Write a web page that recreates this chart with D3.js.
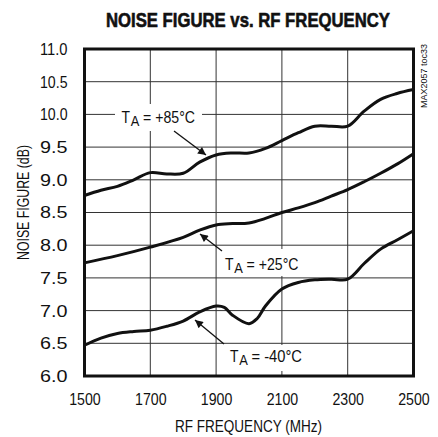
<!DOCTYPE html>
<html>
<head>
<meta charset="utf-8">
<script src="https://cdn.jsdelivr.net/npm/d3@7"></script>
<style>
  html, body { margin: 0; padding: 0; background: #fff; }
  svg { display: block; }
  text { font-family: "Liberation Sans Narrow", "Arial Narrow", "Liberation Sans", sans-serif; fill: #111; }
</style>
</head>
<body>
<svg id="chart" width="438" height="437"></svg>
<script>
// ---- data ----
const freqHot = [1500,1550,1600,1650,1700,1750,1800,1850,1900,1950,2000,2050,2100,2150,2200,2250,2300,2350,2400,2450,2500];
const nfHot   = [8.76,8.84,8.90,9.00,9.11,9.09,9.10,9.27,9.38,9.41,9.41,9.48,9.60,9.72,9.82,9.82,9.82,10.05,10.23,10.32,10.38];

const freqRoom = [1500,1600,1700,1800,1850,1900,1950,2000,2050,2100,2150,2200,2250,2300,2350,2400,2450,2500];
const nfRoom   = [7.73,7.84,7.97,8.12,8.23,8.31,8.33,8.34,8.41,8.50,8.57,8.65,8.75,8.85,8.97,9.10,9.24,9.40];

const freqCold = [1500,1550,1600,1650,1700,1750,1800,1850,1900,1925,1950,2000,2025,2050,2100,2150,2200,2250,2300,2350,2400,2450,2500];
const nfCold   = [6.47,6.58,6.65,6.68,6.70,6.76,6.84,6.98,7.07,7.05,6.93,6.80,6.88,7.07,7.33,7.43,7.47,7.48,7.48,7.72,7.94,8.08,8.22];

const xTicks = [1500,1700,1900,2100,2300,2500];
const yTicks = [6.0,6.5,7.0,7.5,8.0,8.5,9.0,9.5,10.0,10.5,11.0];

const titleText = "NOISE FIGURE vs. RF FREQUENCY";
const xTitle = "RF FREQUENCY (MHz)";
const yTitle = "NOISE FIGURE (dB)";
const sideNote = "MAX2057 toc33";
const seriesLabels = ["+85°C", "+25°C", "-40°C"];

// ---- layout ----
const svg = d3.select("#chart");
const L = 84.5, R = 413.5, T = 49, B = 376;
const x = d3.scaleLinear().domain([1500, 2500]).range([L, R]);
const y = d3.scaleLinear().domain([6, 11]).range([B, T]);

svg.append("defs").append("marker")
  .attr("id", "arr").attr("viewBox", "0 0 10 10").attr("refX", 10).attr("refY", 5)
  .attr("markerWidth", 11).attr("markerHeight", 8).attr("markerUnits", "userSpaceOnUse")
  .attr("orient", "auto")
  .append("path").attr("d", "M0,0 L10,5 L0,10 Z").attr("fill", "#111");

// gridlines
const grid = svg.append("g").attr("stroke", "#333").attr("stroke-width", 1);
grid.selectAll(".vg").data(xTicks.slice(1, -1)).join("line")
  .attr("x1", d => x(d)).attr("x2", d => x(d)).attr("y1", T).attr("y2", B);
grid.selectAll(".hg").data(yTicks.slice(1, -1)).join("line")
  .attr("x1", L).attr("x2", R).attr("y1", d => y(d)).attr("y2", d => y(d));

// axes (labels only)
const xAxis = svg.append("g").attr("transform", `translate(0,${B})`)
  .call(d3.axisBottom(x).tickValues(xTicks).tickFormat(d3.format("d")).tickSize(0).tickPadding(17));
const yAxis = svg.append("g").attr("transform", `translate(${L},0)`)
  .call(d3.axisLeft(y).tickValues(yTicks).tickFormat(d3.format(".1f")).tickSize(0).tickPadding(17));
[xAxis, yAxis].forEach(a => {
  a.select(".domain").remove();
  a.selectAll("text").attr("font-size", 17).attr("fill", "#111")
    .attr("font-family", "'Liberation Sans Narrow', 'Liberation Sans', sans-serif");
});
xAxis.selectAll("text").attr("textLength", 31.5).attr("lengthAdjust", "spacingAndGlyphs");
yAxis.selectAll("text").attr("textLength", 27.5).attr("lengthAdjust", "spacingAndGlyphs");

// annotation labels with white background
const labels = [
  { txt: seriesLabels[0], x: 121.5, y: 123.3, box: [115, 104, 87, 27], tail: [174, 131], tip: [206, 155] },
  { txt: seriesLabels[1], x: 225,   y: 269.5, box: [220, 249, 84, 27], tail: [222, 251], tip: [200, 234] },
  { txt: seriesLabels[2], x: 230,   y: 361.5, box: [225, 345, 82, 26], tail: [224, 344], tip: [195, 320] }
];
const ann = svg.append("g");
labels.forEach(l => {
  ann.append("rect").attr("x", l.box[0]).attr("y", l.box[1]).attr("width", l.box[2]).attr("height", l.box[3]).attr("fill", "#fff");
  ann.append("text").attr("x", l.x).attr("y", l.y).attr("font-size", 17)
    .attr("textLength", 8.5).attr("lengthAdjust", "spacingAndGlyphs").text("T");
  ann.append("text").attr("x", l.x + 9.2).attr("y", l.y + 3).attr("font-size", 14)
    .attr("textLength", 8.6).attr("lengthAdjust", "spacingAndGlyphs").text("A");
  ann.append("text").attr("x", l.x + 21.5).attr("y", l.y).attr("font-size", 17)
    .attr("textLength", l.txt.startsWith("-") ? 50.5 : 52).attr("lengthAdjust", "spacingAndGlyphs")
    .text("= " + l.txt);
});

// curves
const line = d3.line().x(d => x(d[0])).y(d => y(d[1])).curve(d3.curveCatmullRom.alpha(0.5));
const series = [
  d3.zip(freqHot, nfHot),
  d3.zip(freqRoom, nfRoom),
  d3.zip(freqCold, nfCold)
];
svg.append("g").selectAll("path").data(series).join("path")
  .attr("d", line).attr("fill", "none").attr("stroke", "#111").attr("stroke-width", 3)
  .attr("stroke-linejoin", "round");

// arrows
labels.forEach(l => {
  ann.append("line").attr("x1", l.tail[0]).attr("y1", l.tail[1]).attr("x2", l.tip[0]).attr("y2", l.tip[1])
    .attr("stroke", "#111").attr("stroke-width", 1.3).attr("marker-end", "url(#arr)");
});

// frame
svg.append("rect").attr("x", L).attr("y", T).attr("width", R - L).attr("height", B - T)
  .attr("fill", "none").attr("stroke", "#111").attr("stroke-width", 3);

// titles
svg.append("text").attr("x", 248).attr("y", 27).attr("text-anchor", "middle")
  .attr("font-size", 19.5).attr("font-weight", "bold").attr("stroke", "#111").attr("stroke-width", 0.6)
  .attr("textLength", 284).attr("lengthAdjust", "spacingAndGlyphs")
  .text(titleText);
svg.append("text").attr("x", 248.5).attr("y", 432).attr("text-anchor", "middle")
  .attr("font-size", 17).attr("textLength", 147).attr("lengthAdjust", "spacingAndGlyphs").text(xTitle);
svg.append("text").attr("transform", `translate(29,202.5) rotate(-90)`).attr("text-anchor", "middle")
  .attr("font-size", 17).attr("textLength", 115).attr("lengthAdjust", "spacingAndGlyphs").text(yTitle);
svg.append("text").attr("transform", `translate(427,76) rotate(-90)`).attr("text-anchor", "middle")
  .attr("font-size", 9).attr("fill", "#333").attr("textLength", 64).attr("lengthAdjust", "spacingAndGlyphs").text(sideNote);
</script>
</body>
</html>
